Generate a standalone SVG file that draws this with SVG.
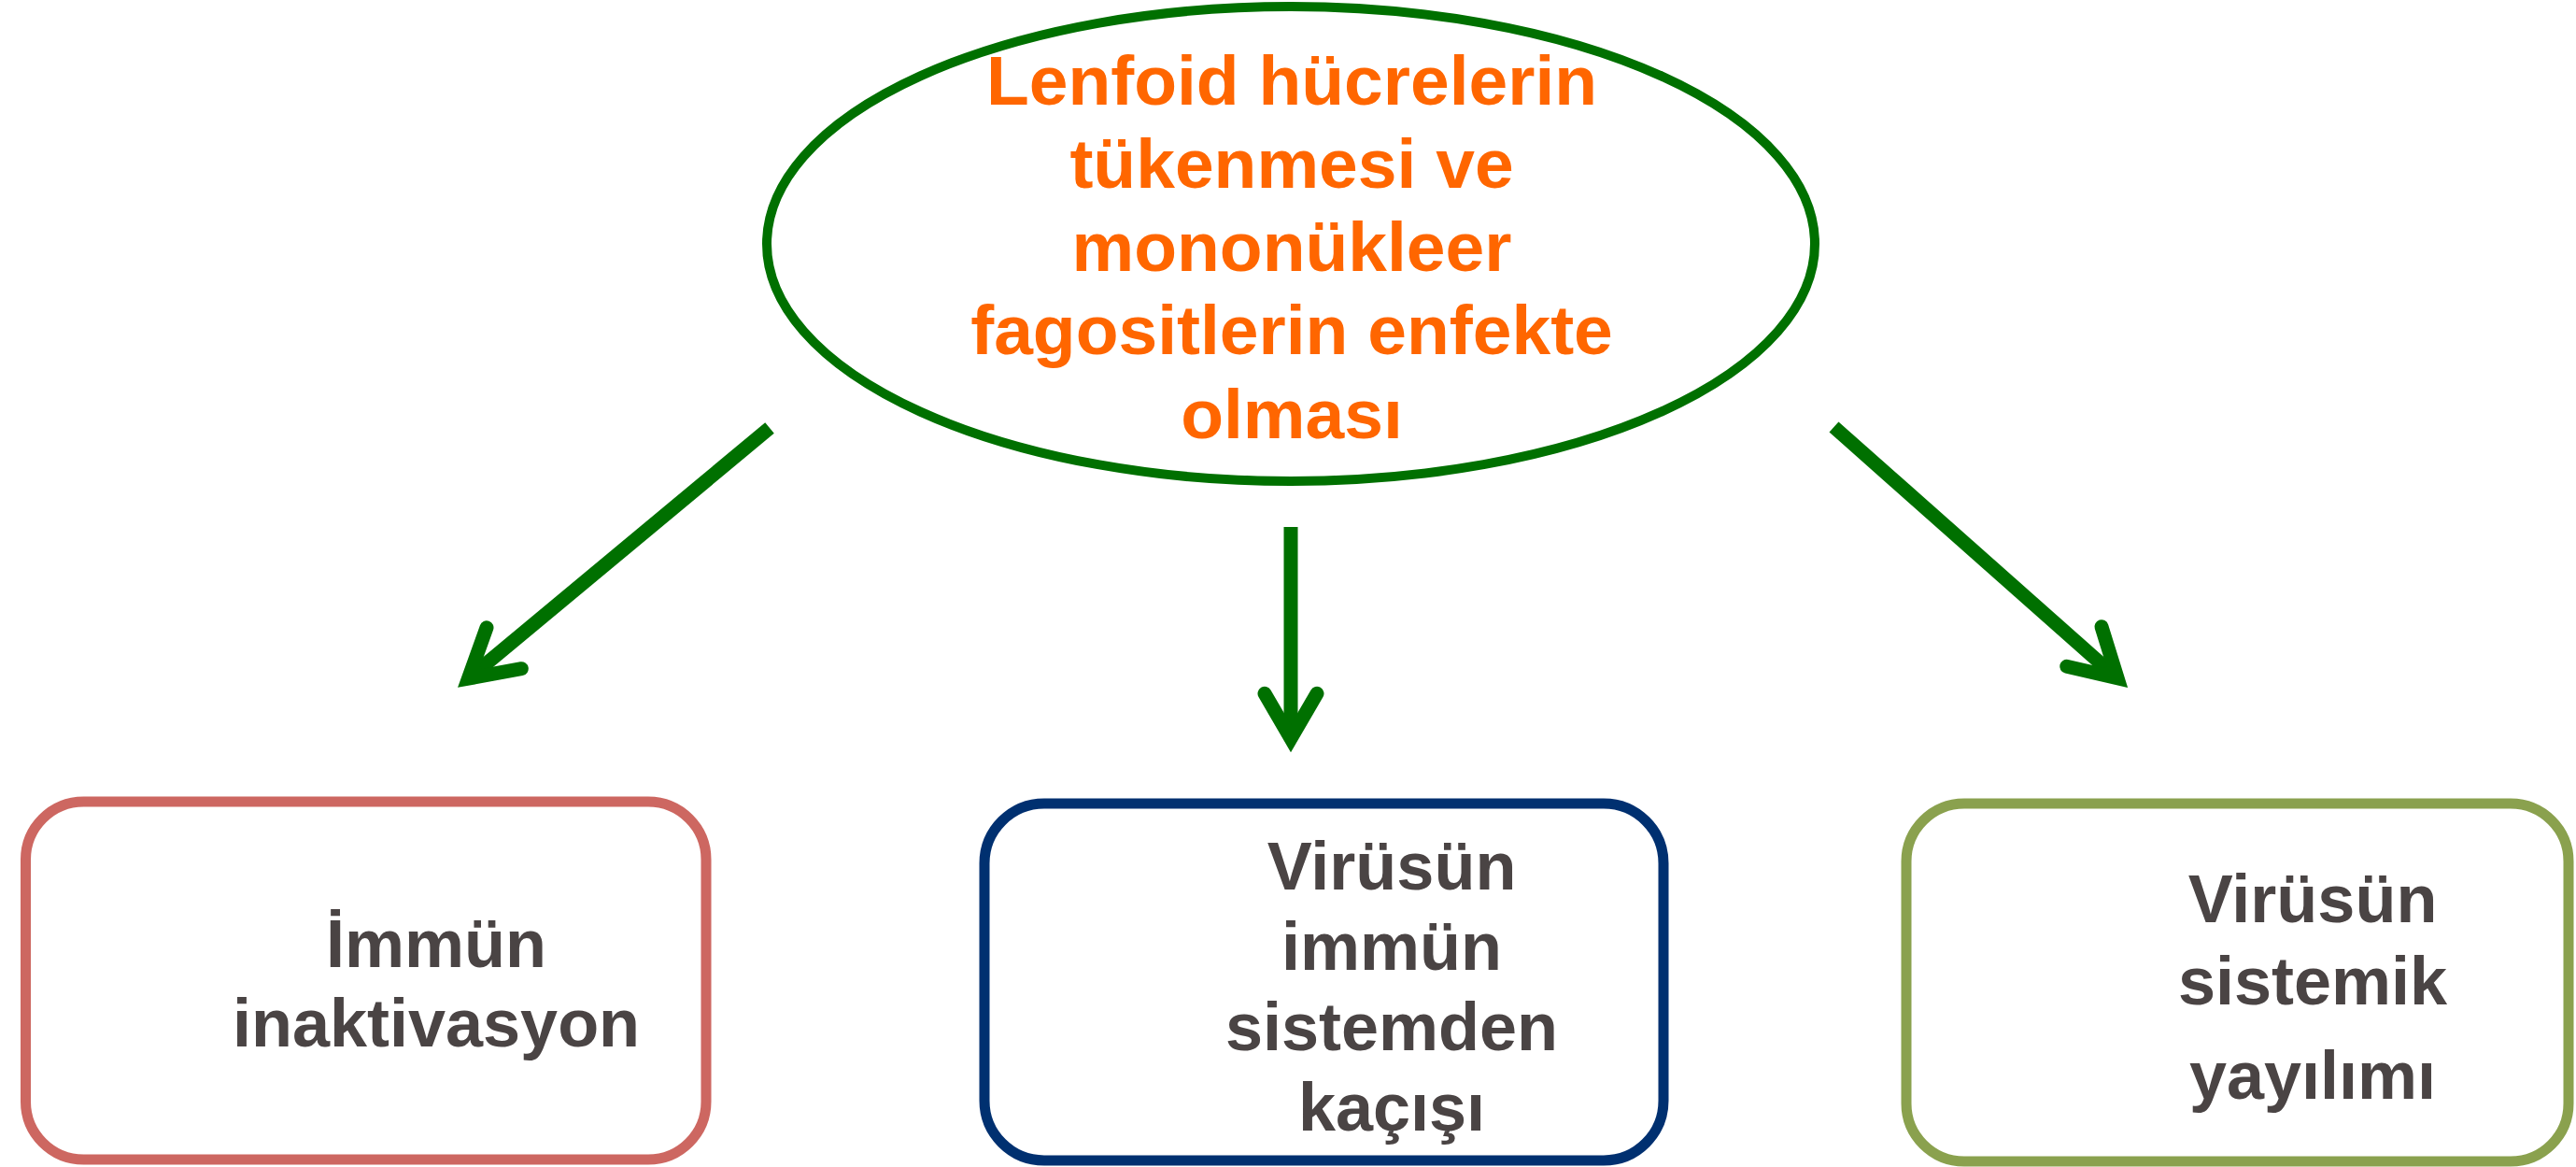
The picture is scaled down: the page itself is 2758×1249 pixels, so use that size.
<svg xmlns="http://www.w3.org/2000/svg" width="2758" height="1249" viewBox="0 0 2758 1249">
<style>
.title{font-family:"Liberation Sans",Arial,sans-serif;font-weight:bold;font-size:75px;fill:#FF6600;text-anchor:middle}
.lbl{font-family:"Liberation Sans",Arial,sans-serif;font-weight:bold;font-size:72px;fill:#4A4444;text-anchor:middle}
.shaft{fill:none;stroke:#007000;stroke-width:15;stroke-linecap:butt}
.head{fill:none;stroke:#007000;stroke-width:15;stroke-linecap:round;stroke-linejoin:miter;stroke-miterlimit:10}
.box{fill:#FFFFFF;stroke-width:11}
</style>
<rect width="2758" height="1249" fill="#FFFFFF"/>
<g id="connectors">
  <line class="shaft" x1="824" y1="458" x2="503" y2="725"/>
  <path class="head" d="M521,671.7 L501.5,726.1 L558.3,715.7"/>
  <line class="shaft" x1="1382" y1="564" x2="1382" y2="789"/>
  <path class="head" d="M1354,742.3 L1382,790.3 L1410,742.3"/>
  <line class="shaft" x1="1963.5" y1="457" x2="2266" y2="725"/>
  <path class="head" d="M2250,670.7 L2267.1,725.8 L2212.7,713.3"/>
</g>
<g id="source">
  <ellipse cx="1382" cy="261" rx="561" ry="254" fill="#FFFFFF" stroke="#007000" stroke-width="10"/>
  <text class="title" x="1383" y="112">Lenfoid hücrelerin</text>
  <text class="title" x="1383" y="201">tükenmesi ve</text>
  <text class="title" x="1383" y="290">mononükleer</text>
  <text class="title" x="1383" y="379">fagositlerin enfekte</text>
  <text class="title" x="1383" y="469">olması</text>
</g>
<g id="immun-inaktivasyon">
  <rect class="box" x="27.5" y="858" width="728.5" height="383" rx="62" ry="62" stroke="#CD6761"/>
  <text class="lbl" x="467" y="1035">İmmün</text>
  <text class="lbl" x="467" y="1120">inaktivasyon</text>
</g>
<g id="immun-kacisi">
  <rect class="box" x="1054" y="860" width="727" height="382" rx="64" ry="64" stroke="#003070"/>
  <text class="lbl" x="1490" y="952">Virüsün</text>
  <text class="lbl" x="1490" y="1038">immün</text>
  <text class="lbl" x="1490" y="1124">sistemden</text>
  <text class="lbl" x="1490" y="1210">kaçışı</text>
</g>
<g id="sistemik-yayilim">
  <rect class="box" x="2041" y="860" width="709" height="383" rx="62" ry="62" stroke="#8AA14E"/>
  <text class="lbl" x="2476" y="987">Virüsün</text>
  <text class="lbl" x="2476" y="1075">sistemik</text>
  <text class="lbl" x="2476" y="1176">yayılımı</text>
</g>
</svg>
